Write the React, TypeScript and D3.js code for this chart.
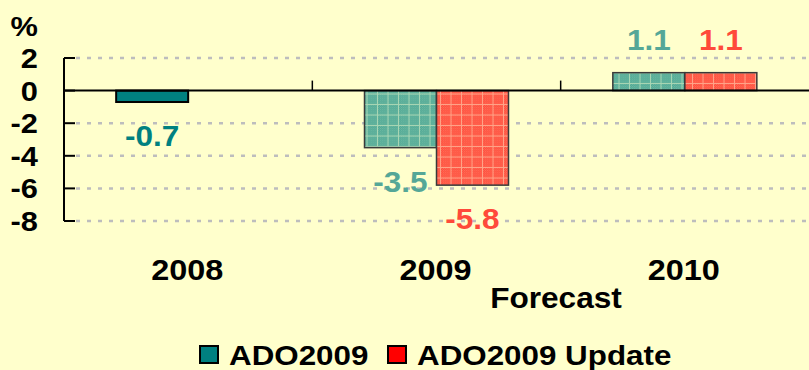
import React from "react";
import * as d3 from "d3";

const categories = ["2008", "2009", "2010"];
const seriesNames = ["ADO2009", "ADO2009 Update"];
const ado2009: (number | null)[] = [-0.7, -3.5, 1.1];
const adoUpdate: (number | null)[] = [null, -5.8, 1.1];
const yTicks = [2, 0, -2, -4, -6, -8];
const yDomain: [number, number] = [-8, 2];
const unitLabel = "%";
const subLabel = "Forecast";

const W = 809;
const H = 370;
const FONT = "'Liberation Sans', Arial, sans-serif";

export default function App() {
  const y = d3.scaleLinear().domain(yDomain).range([221, 58]);
  const x = d3.scaleBand<string>().domain(categories).range([64, 809]).padding(0);
  const bw = x.bandwidth();
  const inner = d3
    .scaleBand<string>()
    .domain(seriesNames)
    .range([bw / 2 - 72, bw / 2 + 72])
    .padding(0);

  const series = [
    { name: seriesNames[0], values: ado2009, fill: "url(#tealPat)", solid: "#008080", label: "#55a797" },
    { name: seriesNames[1], values: adoUpdate, fill: "url(#redPat)", solid: "#ff0000", label: "#ff4a3a" },
  ];

  const text = (
    tx: number,
    ty: number,
    s: string,
    opts: { size?: number; anchor?: string; fill?: string; key?: string; sx?: number } = {}
  ) => (
    <text
      key={opts.key ?? s + tx + ty}
      transform={`translate(${tx},${ty}) scale(${opts.sx ?? 1.1},1)`}
      fontFamily={FONT}
      fontWeight="bold"
      fontSize={opts.size ?? 28}
      textAnchor={opts.anchor ?? "middle"}
      fill={opts.fill ?? "#000"}
    >
      {s}
    </text>
  );

  return (
    <div style={{ position: "fixed", left: 0, top: 0, width: W, height: H }}>
      <svg width={W} height={H} style={{ display: "block" }}>
        <defs>
          <pattern id="tealChk" width="2" height="2" patternUnits="userSpaceOnUse">
            <rect width="2" height="2" fill="#43a08e" />
            <rect width="1" height="1" fill="#78c0a8" />
            <rect x="1" y="1" width="1" height="1" fill="#78c0a8" />
          </pattern>
          <pattern id="redChk" width="2" height="2" patternUnits="userSpaceOnUse">
            <rect width="2" height="2" fill="#ff3d2e" />
            <rect width="1" height="1" fill="#ff7b64" />
            <rect x="1" y="1" width="1" height="1" fill="#ff7b64" />
          </pattern>
          <pattern id="tealPat" width="10.5" height="10.5" patternUnits="userSpaceOnUse">
            <rect width="10.5" height="10.5" fill="url(#tealChk)" />
            <rect x="9.5" width="1" height="10.5" fill="#a9d6b4" />
            <rect y="9.5" width="10.5" height="1" fill="#a9d6b4" />
          </pattern>
          <pattern id="redPat" width="10.5" height="10.5" patternUnits="userSpaceOnUse">
            <rect width="10.5" height="10.5" fill="url(#redChk)" />
            <rect x="9.5" width="1" height="10.5" fill="#ffa488" />
            <rect y="9.5" width="10.5" height="1" fill="#ffa488" />
          </pattern>
        </defs>
        <rect width={W} height={H} fill="#ffffcc" />

        {/* gridlines */}
        {yTicks
          .filter((t) => t !== 0)
          .map((t) => (
            <line
              key={"g" + t}
              x1={76}
              x2={W}
              y1={y(t)}
              y2={y(t)}
              stroke="#bdbdbd"
              strokeWidth={2.5}
              strokeDasharray="4 7"
            />
          ))}

        {/* bars */}
        {series.map((s) =>
          categories.map((c, i) => {
            const v = s.values[i];
            if (v === null || v === undefined) return null;
            const x0 = (x(c) ?? 0) + (inner(s.name) ?? 0);
            const w = inner.bandwidth();
            const y0 = y(Math.max(0, v));
            const h = Math.abs(y(v) - y(0));
            const solid = i === 0;
            return (
              <rect
                key={s.name + c}
                x={x0}
                y={y0}
                width={w}
                height={h}
                fill={solid ? s.solid : s.fill}
                stroke={solid ? "#000" : "#3a3a3a"}
                strokeWidth={solid ? 2 : 1.5}
              />
            );
          })
        )}

        {/* axis */}
        <line x1={64} x2={64} y1={y(2)} y2={y(-8)} stroke="#000" strokeWidth={2} />
        {yTicks.map((t) => (
          <line key={"t" + t} x1={64} x2={75} y1={y(t)} y2={y(t)} stroke="#000" strokeWidth={2} />
        ))}
        <line x1={64} x2={W} y1={y(0)} y2={y(0)} stroke="#000" strokeWidth={2} />
        {categories.slice(1).map((c) => (
          <line
            key={"ct" + c}
            x1={x(c) ?? 0}
            x2={x(c) ?? 0}
            y1={y(0) - 10}
            y2={y(0)}
            stroke="#000"
            strokeWidth={1.5}
          />
        ))}

        {/* y tick labels */}
        {yTicks.map((t) => text(38, y(t) + 10, String(t), { anchor: "end", key: "yl" + t }))}
        {text(38, 36, unitLabel, { anchor: "end", key: "unit" })}

        {/* value labels */}
        {series.map((s) =>
          categories.map((c, i) => {
            const v = s.values[i];
            if (v === null || v === undefined) return null;
            const cx = (x(c) ?? 0) + (inner(s.name) ?? 0) + inner.bandwidth() / 2;
            const ty = v < 0 ? y(v) + 44 : y(v) - 23;
            const fill = i === 0 ? s.solid : s.label;
            return text(cx, ty, v.toFixed(1), { fill, size: 30, sx: 1.05, key: "vl" + s.name + c });
          })
        )}

        {/* category labels */}
        {categories.map((c) =>
          text((x(c) ?? 0) + bw / 2 - 1, 280, c, { size: 30, sx: 1.08, key: "cl" + c })
        )}
        {text(556, 308, subLabel, { size: 29, sx: 1.09, key: "fc" })}

        {/* legend */}
        <rect x={200} y={346} width={18} height={17} fill="#008080" stroke="#000" strokeWidth={2} />
        {text(229, 365, seriesNames[0], { anchor: "start", size: 28, sx: 1.12, key: "lg0" })}
        <rect x={388} y={346} width={18} height={17} fill="#ff0000" stroke="#000" strokeWidth={2} />
        {text(417, 365, seriesNames[1], { anchor: "start", size: 28, sx: 1.12, key: "lg1" })}
      </svg>
    </div>
  );
}
